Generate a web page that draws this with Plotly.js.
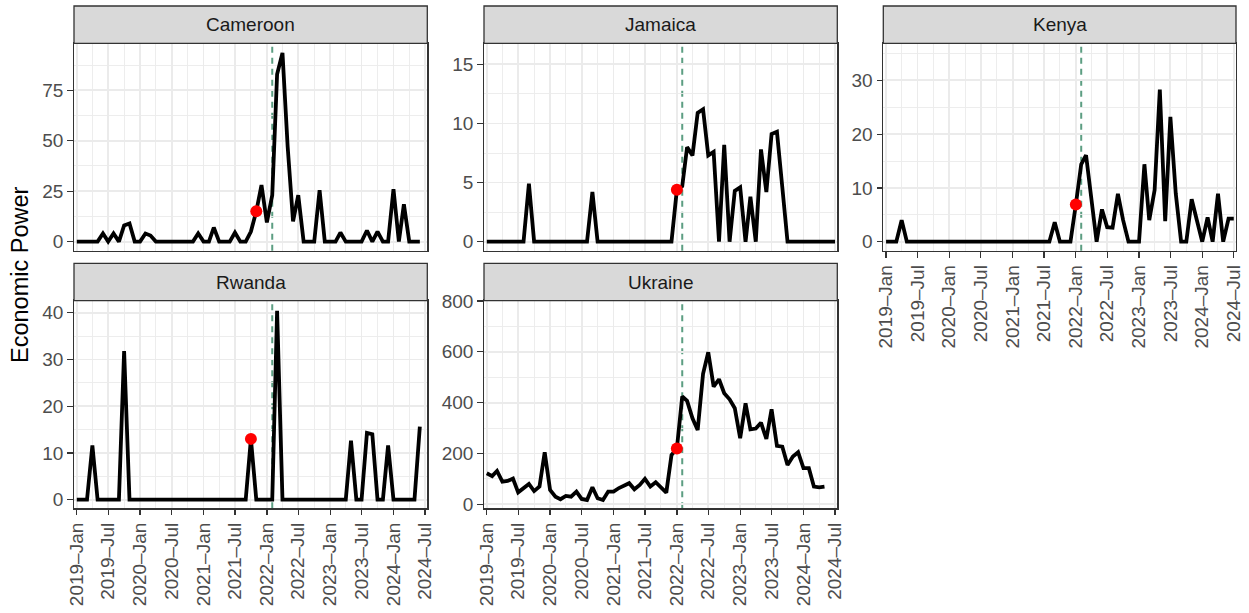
<!DOCTYPE html>
<html>
<head>
<meta charset="utf-8">
<script src="https://cdn.plot.ly/plotly-3.0.1.min.js"></script>
<style>
  html, body { margin: 0; padding: 0; background: #ffffff; }
  #chart { width: 1249px; height: 613px; }
</style>
</head>
<body>
<div id="chart"></div>
<script>
// ---- Data ----
const months = [
  "2019-01","2019-02","2019-03","2019-04","2019-05","2019-06","2019-07","2019-08","2019-09","2019-10","2019-11","2019-12",
  "2020-01","2020-02","2020-03","2020-04","2020-05","2020-06","2020-07","2020-08","2020-09","2020-10","2020-11","2020-12",
  "2021-01","2021-02","2021-03","2021-04","2021-05","2021-06","2021-07","2021-08","2021-09","2021-10","2021-11","2021-12",
  "2022-01","2022-02","2022-03","2022-04","2022-05","2022-06","2022-07","2022-08","2022-09","2022-10","2022-11","2022-12",
  "2023-01","2023-02","2023-03","2023-04","2023-05","2023-06","2023-07","2023-08","2023-09","2023-10","2023-11","2023-12",
  "2024-01","2024-02","2024-03","2024-04","2024-05","2024-06","2024-07"
];

const countries = ["Cameroon", "Jamaica", "Kenya", "Rwanda", "Ukraine"];

const cameroon = [0,0,0,0,0, 4,0,4,0,8, 9,0,0,4,3, 0,0,0,0,0, 0,0,0,4,0, 0,7,0,0,0,
  4.5,0,0,5,15, 28,9.5,23,83,93.5, 47,10,23,0,0, 0,25.5,0,0,0, 4.5,0,0,0,0, 5.5,0,5,0,0,
  26,0,18.5,0,0, 0];

const jamaica = [0,0,0,0,0, 0,0,0,4.9,0, 0,0,0,0,0, 0,0,0,0,0, 4.2,0,0,0,0, 0,0,0,0,0,
  0,0,0,0,0, 0,4.4,4.7,8.0,7.3, 10.9,11.2,7.3,7.6,0, 8.2,0,4.3,4.6,0, 3.8,0,7.8,4.2,9.1,
  9.3,4.6,0,0,0, 0,0,0,0,0, 0,0];

const kenya = [0,0,0,4,0, 0,0,0,0,0, 0,0,0,0,0, 0,0,0,0,0, 0,0,0,0,0, 0,0,0,0,0,
  0,0,3.6,0,0, 0,6.9,14.4,16.1,8.5, 0,6.0,2.7,2.6,8.9, 4,0,0,0,14.4, 4,9.6,28.3,3.8,23.2,
  9,0,0,7.9,4, 0,4.5,0,8.9,0, 4.3,4.3];

const rwanda = [0,0,0,11.6,0, 0,0,0,0,31.8, 0,0,0,0,0, 0,0,0,0,0, 0,0,0,0,0, 0,0,0,0,0,
  0,0,0,13,0, 0,0,0,40.4,0, 0,0,0,0,0, 0,0,0,0,0, 0,0,12.6,0,0, 14.3,14.0,0,0,11.6,
  0,0,0,0,0, 15.6];

const ukraine = [122,111,131,89,92, 101,47,63,80,52, 70,205,56,30,20, 33,30,50,21,17,
  67,24,17,50,50, 64,72,83,59,76, 100,70,87,66,46, 194,220,424,407,338,
  292,513,598,463,492, 437,413,378,260,397, 295,298,321,257,374, 230,227,155,188,205,
  142,142,70,67,70];

const seriesValues = [cameroon, jamaica, kenya, rwanda, ukraine];
// month of the highlighted (red) observation per country
const eventMonths = ["2021-11", "2022-01", "2022-01", "2021-10", "2022-01"];
const referenceDate = "2022-02-01";

const yTickStep = [25, 5, 10, 10, 200];
const yRanges = [[-4.5, 98.3], [-0.76, 16.78], [-1.68, 36.9], [-1.85, 42.56], [-15.7, 801]];

// ---- Layout geometry (pixels) ----
const W = 1249, H = 613;
const colsPx = [[74, 427.3], [484, 837.3], [883.3, 1236]];
const rowsPx = [[43.3, 250.7], [300.7, 508.3]];
const stripPx = [[6, 43.3], [263.4, 300.7]];
const cells = [[0,0],[0,1],[0,2],[1,0],[1,1]]; // [row, col]
const showXLabels = [false, false, true, true, true];

const traces = [];
const shapes = [];
const annotations = [];
const layout = {
  width: W, height: H,
  margin: {l: 0, r: 0, t: 0, b: 0, pad: 0},
  paper_bgcolor: "#ffffff",
  plot_bgcolor: "#ffffff",
  showlegend: false,
  font: {family: "Liberation Sans, Arial, sans-serif", color: "#4d4d4d"},
};

countries.forEach((name, k) => {
  const [r, c] = cells[k];
  const idx = k === 0 ? "" : String(k + 1);
  const xa = "x" + idx, ya = "y" + idx;
  const vals = seriesValues[k];
  const xs = months.slice(0, vals.length);

  traces.push({
    type: "scatter", mode: "lines", x: xs, y: vals, xaxis: xa, yaxis: ya,
    line: {color: "#000000", width: 3.8}, hoverinfo: "x+y"
  });
  const ei = xs.indexOf(eventMonths[k]);
  traces.push({
    type: "scatter", mode: "markers", x: [xs[ei]], y: [vals[ei]], xaxis: xa, yaxis: ya,
    marker: {color: "#ff0000", size: 12, line: {width: 0}}
  });

  const xd = [colsPx[c][0] / W, colsPx[c][1] / W];
  const yd = [1 - rowsPx[r][1] / H, 1 - rowsPx[r][0] / H];

  layout["xaxis" + idx] = {
    type: "date", domain: xd, anchor: ya,
    range: ["2018-12-16", "2024-07-14"],
    tick0: "2019-01-01", dtick: "M6", tickformat: "%Y\u2013%b",
    tickangle: -90,
    showticklabels: showXLabels[k],
    ticks: showXLabels[k] ? "outside" : "",
    ticklen: 5.5, tickwidth: 1.3, tickcolor: "#333333",
    tickfont: {size: 19, color: "#4d4d4d", family: "Liberation Sans, Arial, sans-serif"},
    showgrid: true, gridcolor: "#ebebeb", gridwidth: 1.8,
    minor: {dtick: "M3", tick0: "2019-01-01", showgrid: true, gridcolor: "#ebebeb", gridwidth: 0.9, ticks: ""},
    zeroline: false, showline: true, mirror: true, linecolor: "#333333", linewidth: 1.3,
    fixedrange: true
  };
  layout["yaxis" + idx] = {
    domain: yd, anchor: xa,
    range: yRanges[k],
    tick0: 0, dtick: yTickStep[k],
    ticks: "outside", ticklen: 5.5, tickwidth: 1.3, tickcolor: "#333333",
    tickfont: {size: 19, color: "#4d4d4d", family: "Liberation Sans, Arial, sans-serif"},
    showgrid: true, gridcolor: "#ebebeb", gridwidth: 1.8,
    minor: {dtick: yTickStep[k] / 2, tick0: 0, showgrid: true, gridcolor: "#ebebeb", gridwidth: 0.9, ticks: ""},
    zeroline: false, showline: true, mirror: true, linecolor: "#333333", linewidth: 1.3,
    fixedrange: true
  };

  // reference date dashed line
  shapes.push({
    type: "line", xref: xa, yref: ya + " domain",
    x0: referenceDate, x1: referenceDate, y0: 0, y1: 1,
    line: {color: "#5c9e82", width: 2, dash: "6px,5px"}, layer: "below"
  });

  // facet strip
  const sy = [1 - stripPx[r][1] / H, 1 - stripPx[r][0] / H];
  shapes.push({
    type: "rect", xref: "paper", yref: "paper",
    x0: xd[0], x1: xd[1], y0: sy[0], y1: sy[1],
    fillcolor: "#d9d9d9", line: {color: "#333333", width: 1.3}, layer: "above"
  });
  annotations.push({
    xref: "paper", yref: "paper", x: (xd[0] + xd[1]) / 2, y: (sy[0] + sy[1]) / 2,
    text: name, showarrow: false, xanchor: "center", yanchor: "middle",
    font: {size: 19, color: "#1a1a1a", family: "Liberation Sans, Arial, sans-serif"}
  });
});

annotations.push({
  xref: "paper", yref: "paper", x: 20 / W, y: 1 - 275 / H,
  text: "Economic Power", showarrow: false, textangle: -90,
  xanchor: "center", yanchor: "middle",
  font: {size: 23.5, color: "#000000", family: "Liberation Sans, Arial, sans-serif"}
});

layout.shapes = shapes;
layout.annotations = annotations;

Plotly.newPlot("chart", traces, layout, {staticPlot: true, displayModeBar: false});
</script>
</body>
</html>
